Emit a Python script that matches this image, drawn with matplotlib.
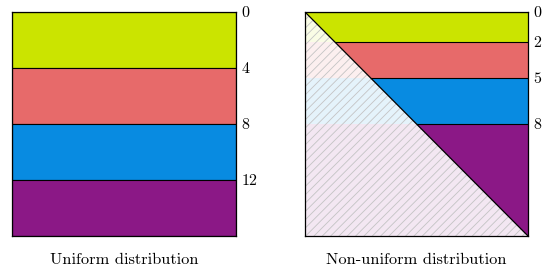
import numpy as np
import matplotlib.pyplot as plt

plt.rcParams['font.family'] = ['cmr10', 'DejaVu Serif']
plt.rcParams['axes.formatter.use_mathtext'] = True
plt.rcParams['hatch.linewidth'] = 0.6

colors = ['#cbe400', '#e76a6a', '#088be1', '#8b1886']

# uniform: equal depth bands
uni_bounds = [0, 0.25, 0.5, 0.75, 1.0]
uni_labels = ['0', '4', '8', '12']

# non-uniform: band edges (fraction of depth)
non_bounds = [0, 0.134, 0.295, 0.5, 1.0]
non_labels = ['0', '2', '5', '8']

fig = plt.figure(figsize=(5.52, 2.71), dpi=100)
ax1 = fig.add_axes([12/552, 35/271, 224/552, 224/271])
ax2 = fig.add_axes([305/552, 35/271, 223/552, 224/271])

# left panel
for i in range(4):
    y0, y1 = uni_bounds[i], uni_bounds[i+1]
    ax1.barh(y0, 1, height=y1 - y0, align='edge', color=colors[i],
             edgecolor='black', linewidth=0.8)

# right panel
for i in range(4):
    y0, y1 = non_bounds[i], non_bounds[i+1]
    yy = np.array([y0, y1])
    ax2.fill_betweenx(yy, yy, 1, color=colors[i], linewidth=0)
    ax2.fill_betweenx(yy, 0, yy, facecolor=colors[i], alpha=0.1, linewidth=0)
    ax2.fill_betweenx(yy, 0, yy, facecolor='none', edgecolor='#c4c4c4',
                      hatch='////', linewidth=0)
    ax2.plot([y0, 1], [y0, y0], color='black', lw=0.8)
ax2.plot([0, 1], [0, 1], color='black', lw=0.9)

for ax, b, lab in [(ax1, uni_bounds, uni_labels), (ax2, non_bounds, non_labels)]:
    ax.set_xlim(0, 1)
    ax.set_ylim(1, 0)
    ax.set_xticks([])
    ax.yaxis.tick_right()
    ax.set_yticks(b[:-1], lab)
    ax.tick_params(axis='y', length=0, pad=4, labelsize=11.5)
    for s in ax.spines.values():
        s.set_linewidth(0.9)

fig.text(124/552, 1 - 260/271, 'Uniform distribution', ha='center', va='center', fontsize=11.8)
fig.text(416/552, 1 - 260/271, 'Non-uniform distribution', ha='center', va='center', fontsize=11.8)

fig.savefig('out.png', dpi=100)
